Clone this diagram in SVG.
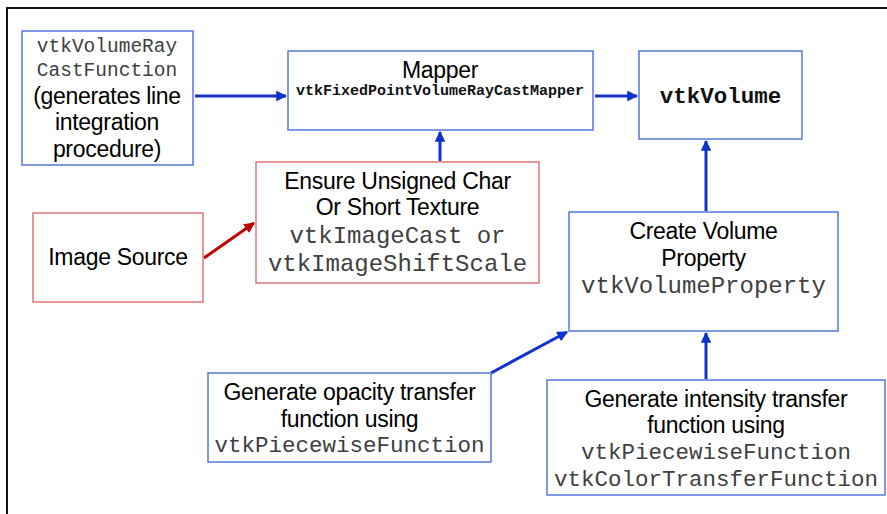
<svg xmlns="http://www.w3.org/2000/svg" width="887" height="514" viewBox="0 0 887 514">
  <style>
    .box-blue { fill: #ffffff; stroke: #5577dd; stroke-width: 1.5; }
    .box-red { fill: #ffffff; stroke: #e07878; stroke-width: 1.5; }
    .sans { font-family: "Liberation Sans", Arial, sans-serif; font-size: 23px; letter-spacing: -0.3px; fill: #000000; text-anchor: middle; }
    .mono { font-family: "Liberation Mono", "Courier New", monospace; fill: #404040; text-anchor: middle; }
    .mono-bold { font-family: "Liberation Mono", "Courier New", monospace; font-weight: bold; fill: #111111; text-anchor: middle; }
    .conn-blue { stroke: #1133cc; stroke-width: 3; fill: none; marker-end: url(#arrow-blue); }
    .conn-red { stroke: #c00000; stroke-width: 3; fill: none; marker-end: url(#arrow-red); }
  </style>
  <defs>
    <marker id="arrow-blue" viewBox="0 0 10 10" refX="9" refY="5" markerWidth="3.6" markerHeight="3.6" orient="auto" markerUnits="strokeWidth">
      <path d="M0,0 L10,5 L0,10 z" fill="#1133cc"/>
    </marker>
    <marker id="arrow-red" viewBox="0 0 10 10" refX="9" refY="5" markerWidth="3.6" markerHeight="3.6" orient="auto" markerUnits="strokeWidth">
      <path d="M0,0 L10,5 L0,10 z" fill="#c00000"/>
    </marker>
  </defs>

  <rect width="887" height="514" fill="#ffffff"/>
  <!-- outer frame (top and left edges) -->
  <path d="M7,514 V8 H887" fill="none" stroke="#111111" stroke-width="2"/>

  <g id="connectors">
    <line class="conn-blue" x1="195" y1="96" x2="286" y2="96"/>
    <line class="conn-blue" x1="595" y1="96" x2="637" y2="96"/>
    <line class="conn-blue" x1="440" y1="161" x2="440" y2="132"/>
    <line class="conn-red" x1="204" y1="258" x2="254" y2="223"/>
    <line class="conn-blue" x1="706" y1="211" x2="706" y2="141"/>
    <line class="conn-blue" x1="491" y1="373" x2="567" y2="332"/>
    <line class="conn-blue" x1="706" y1="379" x2="706" y2="333"/>
  </g>

  <g id="ray-cast-function">
    <rect class="box-blue" x="22" y="31" width="171" height="134"/>
    <text class="mono" x="107" y="52" font-size="19.5">vtkVolumeRay</text>
    <text class="mono" x="107" y="76" font-size="19.5">CastFunction</text>
    <text class="sans" x="107" y="104">(generates line</text>
    <text class="sans" x="107" y="130">integration</text>
    <text class="sans" x="107" y="157">procedure)</text>
  </g>

  <g id="mapper">
    <rect class="box-blue" x="288" y="51" width="305" height="79"/>
    <text class="sans" x="440" y="78">Mapper</text>
    <text class="mono-bold" x="440" y="95" font-size="15">vtkFixedPointVolumeRayCastMapper</text>
  </g>

  <g id="volume">
    <rect class="box-blue" x="639" y="51" width="163" height="88"/>
    <text class="mono-bold" x="720.5" y="103" font-size="22.5">vtkVolume</text>
  </g>

  <g id="image-source">
    <rect class="box-red" x="33" y="213" width="170" height="89"/>
    <text class="sans" x="118" y="265">Image Source</text>
  </g>

  <g id="cast-filter">
    <rect class="box-red" x="256" y="162" width="283" height="121"/>
    <text class="sans" x="397.5" y="189">Ensure Unsigned Char</text>
    <text class="sans" x="397.5" y="215">Or Short Texture</text>
    <text class="mono" x="397.5" y="243" font-size="24">vtkImageCast or</text>
    <text class="mono" x="397.5" y="271" font-size="24">vtkImageShiftScale</text>
  </g>

  <g id="volume-property">
    <rect class="box-blue" x="569" y="212" width="269" height="119"/>
    <text class="sans" x="703.5" y="239">Create Volume</text>
    <text class="sans" x="703.5" y="266">Property</text>
    <text class="mono" x="703.5" y="293" font-size="24">vtkVolumeProperty</text>
  </g>

  <g id="opacity-function">
    <rect class="box-blue" x="208" y="373" width="283" height="89"/>
    <text class="sans" x="349.5" y="400">Generate opacity transfer</text>
    <text class="sans" x="349.5" y="427">function using</text>
    <text class="mono" x="349.5" y="452" font-size="22.5">vtkPiecewiseFunction</text>
  </g>

  <g id="intensity-function">
    <rect class="box-blue" x="547" y="380" width="338" height="115"/>
    <text class="sans" x="716" y="407">Generate intensity transfer</text>
    <text class="sans" x="716" y="433">function using</text>
    <text class="mono" x="716" y="459" font-size="22.5">vtkPiecewiseFunction</text>
    <text class="mono" x="716" y="486" font-size="22.5">vtkColorTransferFunction</text>
  </g>
</svg>
